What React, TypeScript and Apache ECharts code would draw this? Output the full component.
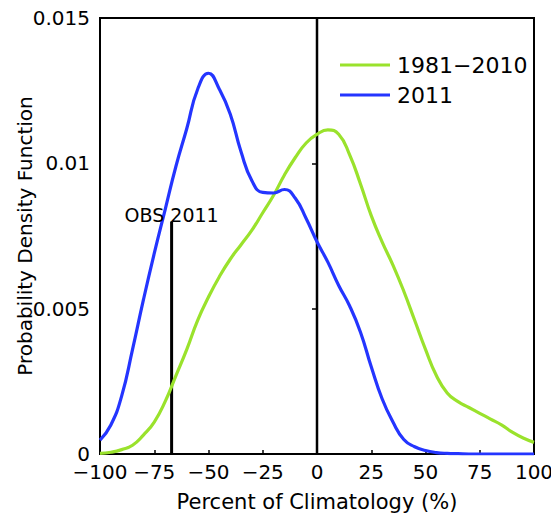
import React, { useEffect, useRef } from "react";
import * as echarts from "echarts";

const xValues: number[] = [
  -100, -95, -90, -85, -80, -75, -70, -65, -60, -55, -50, -45, -40, -35, -30, -25, -20, -15, -10, -5,
  0, 5, 10, 15, 20, 25, 30, 35, 40, 45, 50, 55, 60, 65, 70, 75, 80, 85, 90, 95, 100,
];

const clim: number[] = [
  0.00002, 0.00006, 0.00015, 0.0003, 0.00065, 0.0011, 0.0018, 0.0027, 0.0036, 0.0046, 0.0054,
  0.0061, 0.0067, 0.0072, 0.0077, 0.0083, 0.0089, 0.0096, 0.0102, 0.0107, 0.011, 0.01115, 0.011,
  0.0103, 0.0093, 0.0082, 0.0073, 0.0065, 0.0056, 0.0046, 0.0036, 0.0027, 0.0021, 0.0018, 0.0016,
  0.0014, 0.0012, 0.001, 0.00075, 0.00055, 0.0004,
];

const y2011: number[] = [
  0.00048, 0.001, 0.002, 0.0036, 0.0053, 0.0069, 0.0084, 0.0099, 0.0112, 0.01255, 0.0131,
  0.01255, 0.0117, 0.0104, 0.0094, 0.009, 0.00898, 0.0091, 0.0088, 0.0081, 0.0073, 0.0066, 0.0058,
  0.0051, 0.0042, 0.003, 0.0019, 0.0011, 0.0005, 0.00025, 0.00012, 0.00005, 0.00002, 0.00001, 0,
  0, 0, 0, 0, 0, 0,
];

const seriesNames: string[] = ["1981\u22122010", "2011"];
const obsValue: number[] = [-67, 0.008];
const obsLabel = "OBS 2011";
const xTicks = { min: -100, max: 100, interval: 25 };
const yTicks = { min: 0, max: 0.015, interval: 0.005 };

const FONT = "DejaVu Sans";

export default function App() {
  const ref = useRef<HTMLDivElement>(null);
  useEffect(() => {
    if (!ref.current) return;
    const chart = echarts.init(ref.current, undefined, { renderer: "svg" });
    chart.setOption({
      animation: false,
      backgroundColor: "#ffffff",
      textStyle: { fontFamily: FONT },
      grid: {
        left: 100,
        right: 17,
        top: 18,
        bottom: 63,
        containLabel: false,
        outerBoundsMode: "none",
        show: true,
        borderColor: "#000",
        borderWidth: 2,
      },
      legend: {
        data: seriesNames,
        orient: "vertical",
        left: 340,
        top: 53,
        padding: 0,
        icon: "rect",
        itemWidth: 50,
        itemHeight: 3,
        itemGap: 6,
        textStyle: { fontSize: 22, color: "#000", fontFamily: FONT, lineHeight: 24, padding: [0, 0, 0, 2] },
      },
      xAxis: {
        type: "value",
        min: xTicks.min,
        max: xTicks.max,
        interval: xTicks.interval,
        name: "Percent of Climatology (%)",
        nameLocation: "middle",
        nameGap: 37,
        nameMoveOverlap: false,
        nameTextStyle: { fontSize: 21, color: "#000", fontFamily: FONT },
        axisLine: { lineStyle: { color: "#000", width: 2 } },
        axisTick: { show: true, inside: true, length: 4, lineStyle: { color: "#000", width: 1.5 } },
        axisLabel: {
          fontSize: 20,
          color: "#000",
          margin: 8,
          fontFamily: FONT,
          hideOverlap: false,
          formatter: (v: number) => String(v).replace("-", "\u2212"),
        },
        splitLine: { show: false },
      },
      yAxis: {
        type: "value",
        min: yTicks.min,
        max: yTicks.max,
        interval: yTicks.interval,
        name: "Probability Density Function",
        nameLocation: "middle",
        nameGap: 65,
        nameMoveOverlap: false,
        nameTextStyle: { fontSize: 20, color: "#000", fontFamily: FONT },
        axisLine: { lineStyle: { color: "#000", width: 2 } },
        axisTick: { show: true, inside: false, length: 5, lineStyle: { color: "#000", width: 1.5 } },
        axisLabel: {
          fontSize: 20,
          color: "#000",
          margin: 10,
          fontFamily: FONT,
          formatter: (v: number) => (v === 0 ? "0" : String(parseFloat(v.toFixed(3)))),
        },
        splitLine: { show: false },
      },
      series: [
        {
          name: "zero",
          type: "line",
          data: [
            [0, yTicks.min],
            [0, yTicks.max],
          ],
          symbol: "none",
          lineStyle: { color: "#000", width: 2.5 },
          silent: true,
        },
        {
          name: "obs",
          type: "line",
          data: [
            [obsValue[0], 0],
            [obsValue[0], obsValue[1]],
          ],
          symbol: "none",
          lineStyle: { color: "#000", width: 3 },
          silent: true,
        },
        {
          name: "obsLabel",
          type: "scatter",
          data: [[obsValue[0], obsValue[1]]],
          symbol: "circle",
          symbolSize: 1,
          itemStyle: { color: "#000", opacity: 1 },
          label: {
            show: true,
            position: "top",
            formatter: obsLabel,
            fontSize: 19,
            color: "#000",
            opacity: 1,
            textBorderWidth: 0,
            fontFamily: FONT,
            distance: 0,
            offset: [0, 4],
          },
          silent: true,
          z: 5,
        },
        {
          name: seriesNames[0],
          type: "line",
          data: xValues.map((x, i) => [x, clim[i]]),
          smooth: 0.5,
          symbol: "none",
          color: "#9ae22c",
          lineStyle: { color: "#9ae22c", width: 3.2 },
        },
        {
          name: seriesNames[1],
          type: "line",
          data: xValues.map((x, i) => [x, y2011[i]]),
          smooth: 0.5,
          symbol: "none",
          color: "#2435ff",
          lineStyle: { color: "#2435ff", width: 3.2 },
        },
      ],
    });
    return () => chart.dispose();
  }, []);
  return <div ref={ref} style={{ position: "absolute", left: 0, top: 0, width: 551, height: 517 }} />;
}
